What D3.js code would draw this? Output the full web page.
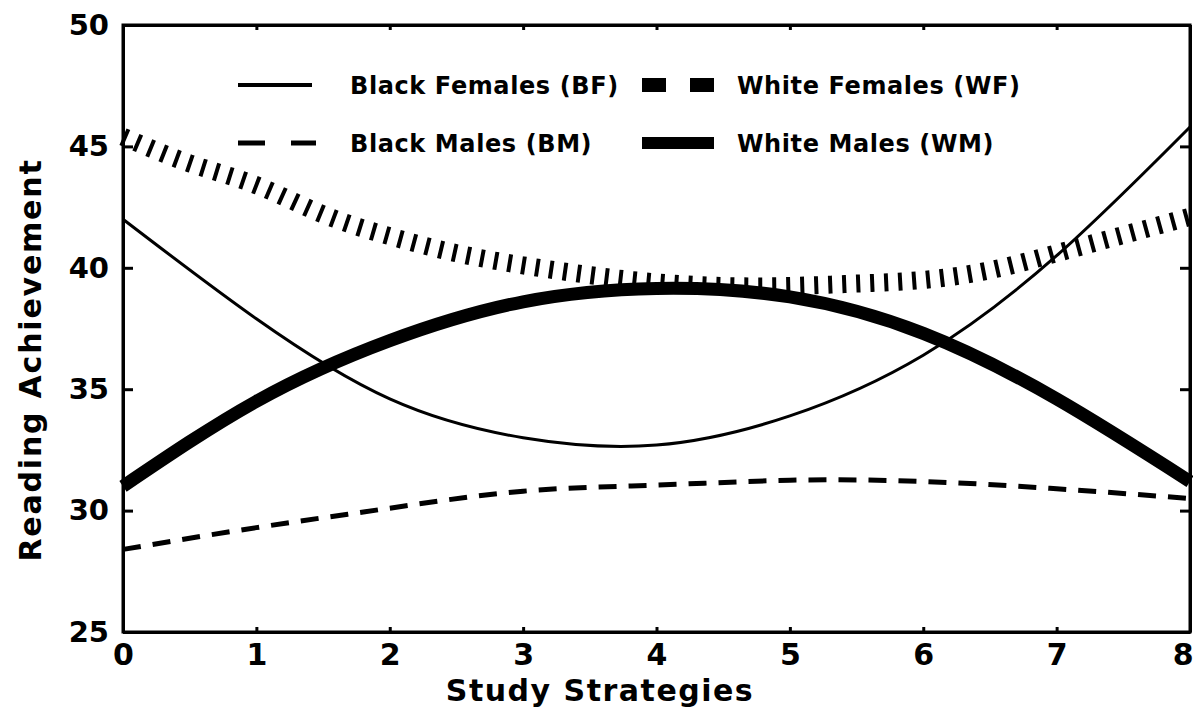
<!DOCTYPE html>
<html><head><meta charset="utf-8">
<script src="https://cdn.jsdelivr.net/npm/d3@7"></script>
<style>body{margin:0;background:#fff}svg{display:block}</style>
</head><body>
<svg id="c" width="1193" height="717"></svg>
<script>
// Data
const xsBF = [0,1,2,3,4,5,6,7,8];
const blackFemales = [42.0,37.9,34.6,33.0,32.7,33.9,36.4,40.5,45.8];
const xsBM = [0,1,2,3,4,5,6,7,8];
const blackMales = [28.4,29.3,30.1,30.8,31.05,31.25,31.2,30.9,30.5];
const xsWF = [0,0.5,1,1.5,2,2.5,3,3.5,4,4.5,5,5.5,6,6.5,7,7.5,8];
const whiteFemales = [45.4,44.3,43.4,42.2,41.3,40.6,40.1,39.7,39.4,39.25,39.25,39.35,39.5,39.9,40.6,41.35,42.1];
const xsWM = [0,1,2,3,4,5,6,7,8];
const whiteMales = [31.0,34.5,37.0,38.6,39.15,38.8,37.3,34.6,31.2];
const xTicks = [0,1,2,3,4,5,6,7,8];
const yTicks = [25,30,35,40,45,50];
const legendLabels = ["Black Females (BF)","Black Males (BM)","White Females (WF)","White Males (WM)"];
const xTitle = "Study Strategies";
const yTitle = "Reading Achievement";

const svg = d3.select("#c");
const x = d3.scaleLinear().domain([0,8]).range([123,1190]);
const y = d3.scaleLinear().domain([25,50]).range([632,25]);
const font = "'DejaVu Sans', sans-serif";

// frame
svg.append("rect").attr("x",x(0)).attr("y",y(50)).attr("width",x(8)-x(0)).attr("height",y(25)-y(50))
  .attr("fill","none").attr("stroke","#000").attr("stroke-width",3);

const gLeft = svg.append("g").attr("transform",`translate(${x(0)},0)`)
  .call(d3.axisLeft(y).tickValues(yTicks).tickSize(-10).tickSizeOuter(0).tickPadding(14));
const gBottom = svg.append("g").attr("transform",`translate(0,${y(25)})`)
  .call(d3.axisBottom(x).tickValues(xTicks).tickSize(-5).tickSizeOuter(0).tickPadding(12).tickFormat(d3.format("d")));
const gRight = svg.append("g").attr("transform",`translate(${x(8)},0)`)
  .call(d3.axisRight(y).tickValues(yTicks).tickSize(-10).tickSizeOuter(0).tickFormat(""));
const gTop = svg.append("g").attr("transform",`translate(0,${y(50)})`)
  .call(d3.axisTop(x).tickValues(xTicks).tickSize(-5).tickSizeOuter(0).tickFormat(""));
[gLeft,gBottom,gRight,gTop].forEach(g=>{
  g.select(".domain").attr("stroke-width",3);
  g.selectAll(".tick line").attr("stroke-width",3);
  g.selectAll("text").attr("font-family",font).attr("font-weight","bold").attr("fill","#000");
});
gLeft.selectAll("text").attr("font-size",29);
gBottom.selectAll("text").attr("font-size",30)
  .attr("text-anchor",d=>d===8?"end":"middle").attr("dx",d=>d===8?"3":"0");

// axis titles
svg.append("text").attr("x",600).attr("y",701).attr("text-anchor","middle")
  .attr("font-family",font).attr("font-weight","bold").attr("font-size",30).attr("letter-spacing",1.5).text(xTitle);
svg.append("text").attr("transform","translate(41,360) rotate(-90)").attr("text-anchor","middle")
  .attr("font-family",font).attr("font-weight","bold").attr("font-size",30).attr("letter-spacing",1.8).text(yTitle);

const line = (xs) => d3.line().x((d,i)=>x(xs[i])).y(d=>y(d)).curve(d3.curveNatural);

// series
svg.append("path").datum(whiteMales).attr("d",line(xsWM))
  .attr("fill","none").attr("stroke","#000").attr("stroke-width",13);
svg.append("path").datum(whiteFemales).attr("d",line(xsWF))
  .attr("fill","none").attr("stroke","#000").attr("stroke-width",18).attr("stroke-dasharray","4,10");
svg.append("path").datum(blackFemales).attr("d",line(xsBF))
  .attr("fill","none").attr("stroke","#000").attr("stroke-width",3);
svg.append("path").datum(blackMales).attr("d",line(xsBM))
  .attr("fill","none").attr("stroke","#000").attr("stroke-width",5).attr("stroke-dasharray","18,12");

// legend
const lg = svg.append("g");
lg.append("line").attr("x1",238).attr("x2",312).attr("y1",85).attr("y2",85).attr("stroke","#000").attr("stroke-width",4);
lg.append("line").attr("x1",238).attr("x2",316).attr("y1",143).attr("y2",143).attr("stroke","#000").attr("stroke-width",5).attr("stroke-dasharray","27,26");
lg.append("line").attr("x1",642).attr("x2",714).attr("y1",85).attr("y2",85).attr("stroke","#000").attr("stroke-width",14).attr("stroke-dasharray","24,24");
lg.append("line").attr("x1",642).attr("x2",714).attr("y1",143).attr("y2",143).attr("stroke","#000").attr("stroke-width",12);
const lpos = [[350,85],[350,143],[737,85],[737,143]];
lg.selectAll("text.l").data(legendLabels).join("text").attr("class","l")
  .attr("x",(d,i)=>lpos[i][0]).attr("y",(d,i)=>lpos[i][1]).attr("dy","0.36em")
  .attr("font-family",font).attr("font-weight","bold").attr("font-size",24).attr("letter-spacing",0.6).text(d=>d);
</script>
</body></html>
